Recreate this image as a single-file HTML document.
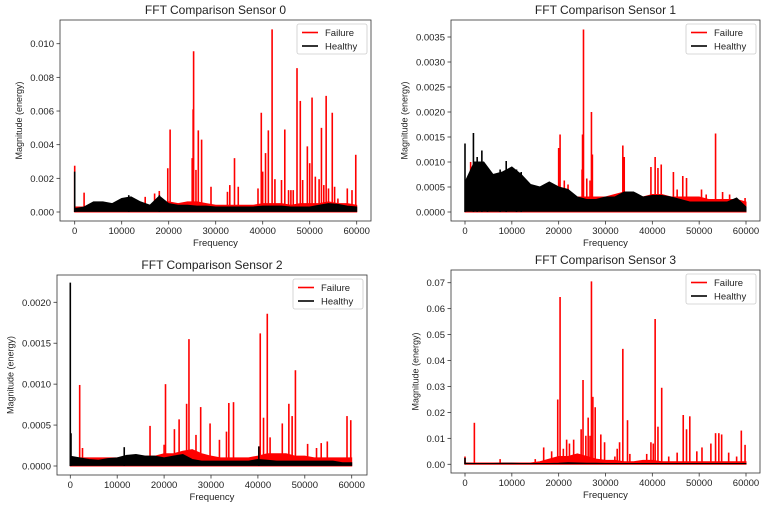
<!DOCTYPE html>
<html><head><meta charset="utf-8">
<style>
body{margin:0;background:#fff;}
svg{display:block;font-family:"Liberation Sans","DejaVu Sans",sans-serif;}
</style></head>
<body>
<svg id="c" width="767" height="507" viewBox="0 0 767 507"></svg>
<script>
// ---- data (magnitudes in units of 1e-3) ----
const baseFreqs = [0,2000,4000,6000,8000,10000,12000,14000,16000,18000,20000,22000,24000,26000,28000,30000,32000,34000,36000,38000,40000,42000,44000,46000,48000,50000,52000,54000,56000,58000,60000];

const s0FailPeakFreq = [0,2000,15000,17000,18000,19800,20300,25000,25200,25300,25800,26300,27000,29000,32500,33000,34000,34800,39000,39700,40000,40600,41200,42000,42600,44000,44700,45500,46000,46500,47300,48000,48500,49500,50000,50500,51200,52000,52500,53000,53500,54000,54800,55300,56000,58000,59000,59800];
const s0FailPeakVal = [2.75,1.15,0.9,1.1,1.25,2.6,4.9,3.2,6.1,9.55,2.5,4.85,4.3,1.5,1.2,1.6,3.2,1.5,1.4,5.9,2.4,3.5,4.85,10.85,1.95,1.9,4.9,1.3,1.3,1.3,8.55,6.6,1.9,3.9,2.9,6.8,2.1,1.95,5.0,1.6,6.9,1.4,5.9,1.5,0.8,1.4,1.3,3.4];
const s0FailBase = [0.3,0.3,0.4,0.5,0.5,0.5,0.5,0.5,0.4,0.5,0.6,0.5,0.6,0.6,0.5,0.4,0.4,0.4,0.4,0.4,0.5,0.5,0.5,0.4,0.5,0.5,0.5,0.6,0.5,0.5,0.4];
const s0HealthyEnv = [0.2,0.3,0.6,0.6,0.5,0.8,0.9,0.6,0.4,0.95,0.5,0.4,0.4,0.35,0.35,0.3,0.3,0.3,0.3,0.3,0.35,0.35,0.35,0.3,0.3,0.3,0.4,0.5,0.45,0.35,0.3];
const s0HealthySpikeFreq = [0,11500,18000];
const s0HealthySpikeVal = [2.4,1.0,1.0];
const s0YTicks = [0,2,4,6,8,10];
const s0YTickLabels = ["0.000","0.002","0.004","0.006","0.008","0.010"];

const s1FailPeakFreq = [1200,20000,20300,21200,22000,25000,25100,25300,26000,26700,27000,27200,33700,34000,39700,40600,41200,41900,44500,45300,46500,47300,50500,51500,53500,55000,56500,59800];
const s1FailPeakVal = [1.0,1.28,1.55,0.63,0.55,0.85,1.55,3.65,0.67,0.63,2.0,1.15,1.33,1.1,0.9,1.1,0.88,0.95,0.8,0.45,0.72,0.68,0.45,0.35,1.57,0.4,0.35,0.28];
const s1FailBase = [0.3,0.9,0.8,0.6,0.7,0.6,0.5,0.5,0.5,0.5,0.35,0.3,0.3,0.3,0.3,0.3,0.35,0.4,0.35,0.3,0.35,0.35,0.3,0.3,0.3,0.3,0.25,0.25,0.25,0.25,0.2];
const s1HealthyEnv = [0.6,1.0,1.0,0.75,0.8,0.9,0.75,0.55,0.5,0.6,0.5,0.45,0.3,0.25,0.25,0.3,0.3,0.4,0.4,0.3,0.33,0.33,0.3,0.25,0.2,0.2,0.2,0.2,0.2,0.28,0.1];
const s1HealthySpikeFreq = [0,1800,2600,3600,4800,7500,8800,11000,12000];
const s1HealthySpikeVal = [1.37,1.58,1.1,1.23,0.8,0.85,1.02,0.85,0.8];
const s1YTicks = [0,0.5,1,1.5,2,2.5,3,3.5];
const s1YTickLabels = ["0.0000","0.0005","0.0010","0.0015","0.0020","0.0025","0.0030","0.0035"];

const s2FailPeakFreq = [2000,2600,17000,20000,20300,22200,23200,24800,25300,26800,27800,29800,31800,33300,33800,34800,40500,41200,42000,42600,45200,46600,47300,48000,50600,52500,53500,54800,59000,59800];
const s2FailPeakVal = [0.99,0.22,0.49,0.26,1.0,0.45,0.57,0.76,1.55,0.38,0.72,0.52,0.32,0.42,0.77,0.78,1.62,0.59,1.86,0.35,0.52,0.76,0.61,1.17,0.27,0.22,0.28,0.3,0.61,0.56];
const s2FailBase = [0.1,0.1,0.1,0.1,0.1,0.1,0.1,0.1,0.12,0.12,0.15,0.15,0.18,0.2,0.15,0.12,0.1,0.1,0.1,0.1,0.12,0.15,0.15,0.15,0.12,0.12,0.1,0.1,0.1,0.1,0.1];
const s2HealthyEnv = [0.12,0.1,0.08,0.07,0.09,0.1,0.13,0.14,0.12,0.12,0.1,0.12,0.14,0.08,0.06,0.06,0.06,0.06,0.06,0.06,0.08,0.07,0.06,0.06,0.06,0.06,0.06,0.06,0.06,0.04,0.04];
const s2HealthySpikeFreq = [0,150,11500,40200];
const s2HealthySpikeVal = [2.24,0.4,0.23,0.24];
const s2YTicks = [0,0.5,1,1.5,2];
const s2YTickLabels = ["0.0000","0.0005","0.0010","0.0015","0.0020"];

const s3FailPeakFreq = [0,2000,7500,15000,16800,18500,19800,20300,21000,21700,22300,23200,24800,25200,25800,26300,26700,27000,27300,27800,29000,29800,32000,32500,33000,33700,34700,35200,38800,39700,40200,40600,41200,42000,43500,45300,46600,47300,48000,49500,50600,52500,53500,54200,54800,56300,58000,59000,59800];
const s3FailPeakVal = [3,16,2,2,6.5,5,25,64.5,6,9.5,8,9.5,13.5,32.5,11,18,11,70.5,26,22,11.5,8.5,3,6,8.5,44.5,17,4,4,8.5,8,56,14.5,29.5,3,4.5,19,13.5,18.5,5,6.5,8,12,12,11.5,4.5,3,13,7.5];
const s3FailBase = [0.5,0.5,0.5,0.5,0.5,0.5,0.5,0.5,1,2,3,3,4,3,2,1.5,1.5,1,1,1.5,1.5,1,1,1,1,1,1,1,1,1,1];
const s3HealthyEnv = [0.4,0.3,0.3,0.3,0.4,0.4,0.3,0.3,0.3,0.3,0.4,0.6,0.5,0.4,0.4,0.3,0.3,0.3,0.3,0.3,0.3,0.3,0.3,0.3,0.3,0.3,0.3,0.3,0.3,0.3,0.3];
const s3HealthySpikeFreq = [0];
const s3HealthySpikeVal = [2.5];
const s3YTicks = [0,10,20,30,40,50,60,70];
const s3YTickLabels = ["0.00","0.01","0.02","0.03","0.04","0.05","0.06","0.07"];

const xTicks = [0,10000,20000,30000,40000,50000,60000];
const xTickLabels = ["0","10000","20000","30000","40000","50000","60000"];

const NS = "http://www.w3.org/2000/svg";
const svg = document.getElementById('c');
function mk(tag, attrs, parent){
  const e = document.createElementNS(NS, tag);
  for (const k in attrs) e.setAttribute(k, attrs[k]);
  (parent||svg).appendChild(e);
  return e;
}

const panels = [
  {title:"FFT Comparison Sensor 0", box:[60,20,371,221], x0:74.7, x1:356.7, y0:212, yRef:43.7, yRefVal:10,
   pf:s0FailPeakFreq, pv:s0FailPeakVal, fb:s0FailBase, he:s0HealthyEnv, hsf:s0HealthySpikeFreq, hsv:s0HealthySpikeVal, yt:s0YTicks, ytl:s0YTickLabels, legX:297},
  {title:"FFT Comparison Sensor 1", box:[451,20,760,221], x0:465, x1:746, y0:212, yRef:37, yRefVal:3.5,
   pf:s1FailPeakFreq, pv:s1FailPeakVal, fb:s1FailBase, he:s1HealthyEnv, hsf:s1HealthySpikeFreq, hsv:s1HealthySpikeVal, yt:s1YTicks, ytl:s1YTickLabels, legX:686},
  {title:"FFT Comparison Sensor 2", box:[57,275,367,475], x0:70.3, x1:351.7, y0:466, yRef:302.3, yRefVal:2,
   pf:s2FailPeakFreq, pv:s2FailPeakVal, fb:s2FailBase, he:s2HealthyEnv, hsf:s2HealthySpikeFreq, hsv:s2HealthySpikeVal, yt:s2YTicks, ytl:s2YTickLabels, legX:293},
  {title:"FFT Comparison Sensor 3", box:[451,270,760,473], x0:465, x1:746, y0:464.3, yRef:282.7, yRefVal:70,
   pf:s3FailPeakFreq, pv:s3FailPeakVal, fb:s3FailBase, he:s3HealthyEnv, hsf:s3HealthySpikeFreq, hsv:s3HealthySpikeVal, yt:s3YTicks, ytl:s3YTickLabels, legX:686}
];

panels.forEach((p, idx) => {
  const g = mk('g', {});
  
  
  const X = v => p.x0 + (v/60000)*(p.x1 - p.x0);
  const Y = v => p.y0 - (v/p.yRefVal)*(p.y0 - p.yRef);
  const [bx0,by0,bx1,by1] = p.box;
  const cx = (bx0+bx1)/2;

  const t = mk('text', {x:cx, y:by0-6, 'text-anchor':'middle', 'font-size':'12', fill:'#222'}, g);
  t.textContent = p.title;
  
  

  let d = 'M' + X(0) + ',' + Y(0);
  baseFreqs.forEach((f,i) => { d += ' L' + X(f) + ',' + Y(p.fb[i]); });
  d += ' L' + X(60000) + ',' + Y(0) + ' Z';
  const fa = mk('path', {d:d, fill:'#ff0000', stroke:'#ff0000', 'stroke-width':'1'}, g);
  
  

  p.pf.forEach((f,i) => {
    const l = mk('line', {x1:X(f), x2:X(f), y1:Y(0), y2:Y(p.pv[i]), stroke:'#ff0000', 'stroke-width':'1.6'}, g);
    
    
  });

  const lowv = p.yRefVal * 0.004;
  let h = 'M' + X(0) + ',' + Y(lowv);
  baseFreqs.forEach((f,i) => { h += ' L' + X(f) + ',' + Y(p.he[i]); });
  for (let i = baseFreqs.length-1; i >= 0; i--) h += ' L' + X(baseFreqs[i]) + ',' + Y(lowv);
  h += ' Z';
  const ha = mk('path', {d:h, fill:'#000', stroke:'#000', 'stroke-width':'1'}, g);
  
  
  p.hsf.forEach((f,i) => {
    const l = mk('line', {x1:X(f), x2:X(f), y1:Y(0), y2:Y(p.hsv[i]), stroke:'#000', 'stroke-width':'1.6'}, g);
    
    
  });

  const b = mk('rect', {x:bx0, y:by0, width:bx1-bx0, height:by1-by0, fill:'none', stroke:'#333', 'stroke-width':'0.8'}, g);
  
  

  xTicks.forEach((v,i) => {
    const x = X(v);
    const tk = mk('line', {x1:x, x2:x, y1:by1, y2:by1+3.5, stroke:'#333', 'stroke-width':'0.8'}, g);
    
    
    const tl = mk('text', {x:x, y:by1+13, 'text-anchor':'middle', 'font-size':'9.5', fill:'#222'}, g);
    tl.textContent = xTickLabels[i];
    
    
  });
  const xl = mk('text', {x:cx, y:by1+25, 'text-anchor':'middle', 'font-size':'9.5', fill:'#222'}, g);
  xl.textContent = 'Frequency';
  
  

  p.yt.forEach((v,i) => {
    const y = Y(v);
    const tk = mk('line', {x1:bx0-3.5, x2:bx0, y1:y, y2:y, stroke:'#333', 'stroke-width':'0.8'}, g);
    
    
    const tl = mk('text', {x:bx0-6, y:y+3.5, 'text-anchor':'end', 'font-size':'9.5', fill:'#222'}, g);
    tl.textContent = p.ytl[i];
    
    
  });
  const labW = p.ytl[0].length * 5.6;
  const yx = bx0 - 10 - labW;
  const yc = (by0+by1)/2;
  const yl = mk('text', {x:yx, y:yc, 'text-anchor':'middle', 'font-size':'9', fill:'#222', transform:'rotate(-90 '+yx+' '+yc+')'}, g);
  yl.textContent = 'Magnitude (energy)';
  
  

  const lx = p.legX, ly = by0 + 4;
  const lg = mk('g', {}, g);
  
  
  mk('rect', {x:lx, y:ly, width:bx1-4-lx, height:30, fill:'#fff', 'fill-opacity':'0.85', stroke:'#ccc', 'stroke-width':'0.8', rx:'2'}, lg);
  const e1 = mk('line', {x1:lx+5, x2:lx+21, y1:ly+8.5, y2:ly+8.5, stroke:'#ff0000', 'stroke-width':'1.6'}, lg);
  
  
  const t1 = mk('text', {x:lx+28, y:ly+12, 'font-size':'9.5', fill:'#222'}, lg);
  t1.textContent = 'Failure';
  
  
  const e2 = mk('line', {x1:lx+5, x2:lx+21, y1:ly+22, y2:ly+22, stroke:'#000', 'stroke-width':'1.6'}, lg);
  
  
  const t2 = mk('text', {x:lx+28, y:ly+25.5, 'font-size':'9.5', fill:'#222'}, lg);
  t2.textContent = 'Healthy';
  
  
});
</script>
</body></html>
